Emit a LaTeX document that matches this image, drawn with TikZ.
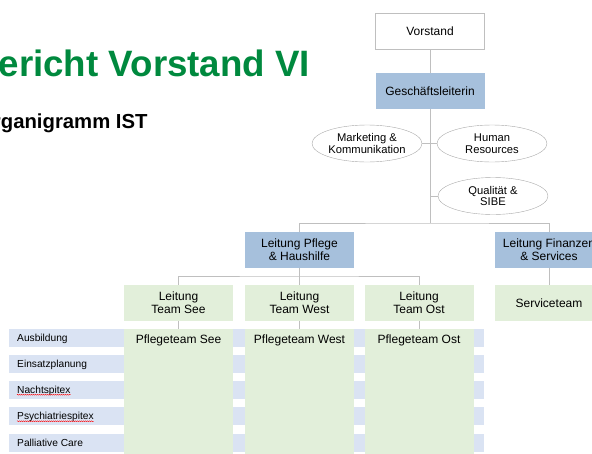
\documentclass[tikz,border=0pt]{standalone}
\usepackage{fontspec}
\setmainfont{Liberation Sans}
\usepackage{tikz}
\usetikzlibrary{shapes.geometric,decorations.pathmorphing}

\definecolor{titlegreen}{RGB}{0,137,62}
\definecolor{linegray}{RGB}{191,191,191}
\definecolor{ovalgray}{RGB}{170,170,170}
\definecolor{leadblue}{RGB}{166,192,220}
\definecolor{teamgreen}{RGB}{226,239,218}
\definecolor{barblue}{RGB}{218,227,243}

\begin{document}
\begin{tikzpicture}[x=1pt,y=-1pt,font=\fontsize{12}{12.8}\selectfont]
    \tikzstyle{link}=[draw=linegray, line width=1pt]
    \tikzstyle{org box}=[rectangle,minimum width=109pt,minimum height=36pt,inner sep=0pt,align=center]
    \tikzstyle{board box}=[org box, draw=linegray, fill=white];
    \tikzstyle{lead box}=[org box, fill=leadblue];
    \tikzstyle{team box}=[org box, fill=teamgreen];
    \tikzstyle{staff oval}=[ellipse, draw=ovalgray, fill=white, minimum width=110pt, minimum height=37pt, inner sep=0pt, align=center, font=\fontsize{11.2}{11.8}\selectfont];
    \tikzstyle{task bar}=[fill=barblue, minimum width=475pt, minimum height=18pt, inner sep=0pt, anchor=west];
    \tikzstyle{task}=[anchor=base west, inner sep=0pt, font=\fontsize{10.2}{12}\selectfont];
    \tikzstyle{typo}=[draw=red, line width=0.4pt, decorate, decoration={snake, amplitude=0.5pt, segment length=2pt}];

    \useasboundingbox (0,0) rectangle (592,453);
    \clip (0,0) rectangle (592,453);

    % Title
    \node[anchor=base west, inner sep=0pt, text=titlegreen, font=\fontsize{36.7}{40}\selectfont\bfseries] (title) at (-28,76) {Bericht Vorstand VI};
    \node[anchor=base west, inner sep=0pt, font=\fontsize{20.3}{24}\selectfont\bfseries] (subtitle) at (-23,128.5) {Organigramm IST};

    % Tasks across the teams
    \node[task bar] (B-1) at (9,338) {};
    \node[task bar] (B-2) at (9,363.5) {};
    \node[task bar] (B-3) at (9,389.5) {};
    \node[task bar] (B-4) at (9,416) {};
    \node[task bar] (B-5) at (9,443) {};
    \node[task] (T-1) at (17,341.7) {Ausbildung};
    \node[task] (T-2) at (17,367.2) {Einsatzplanung};
    \node[task] (T-3) at (17,393.2) {Nachtspitex};
    \node[task] (T-4) at (17,419.7) {Psychiatriespitex};
    \node[task] (T-5) at (17,446.7) {Palliative Care};
    \draw[typo] ([yshift=-1.5pt]T-3.base west) -- ([yshift=-1.5pt]T-3.base east);
    \draw[typo] ([yshift=-1.5pt]T-4.base west) -- ([yshift=-1.5pt]T-4.base east);

    % Board and management
    \node[board box] (V) at (430,31) {Vorstand};
    \node[lead box] (G) at (430,91) {Geschäftsleiterin};
    \node[staff oval] (M) at (367,143.5) {Marketing \&\\Kommunikation};
    \node[staff oval] (HR) at (492,143.5) {Human\\Resources};
    \node[staff oval] (Q) at (493,196) {Qualität \&\\SIBE};
    \coordinate (qj) at (430,196);
    \coordinate (split) at (430,223);

    % Departments
    \node[lead box] (P) at (299.5,250) {Leitung Pflege\\\& Haushilfe};
    \node[lead box] (F) at (549,250) {Leitung Finanzen\\\& Services};
    \coordinate (pj) at (299.5,276);

    % Teams
    \node[team box] (LS) at (178.5,303) {Leitung\\Team See};
    \node[team box] (LW) at (299.5,303) {Leitung\\Team West};
    \node[team box] (LO) at (419,303) {Leitung\\Team Ost};
    \node[team box] (S) at (549,303) {Serviceteam};
    \node[team box, minimum height=125pt, anchor=north, label={[anchor=north, inner sep=0pt, yshift=-6pt]north:Pflegeteam See}] (PS) at (178.5,329) {};
    \node[team box, minimum height=125pt, anchor=north, label={[anchor=north, inner sep=0pt, yshift=-6pt]north:Pflegeteam West}] (PW) at (299.5,329) {};
    \node[team box, minimum height=125pt, anchor=north, label={[anchor=north, inner sep=0pt, yshift=-6pt]north:Pflegeteam Ost}] (PO) at (419,329) {};

    % Connectors
    \path[link] (V) -- (G);
    \path[link] (G) -- (split);
    \path[link] (M) -- (HR);
    \path[link] (qj) -- (Q);
    \path[link] (P) |- (split) -| (F);
    \path[link] (P) -- (pj);
    \path[link] (LS) |- (pj) -| (LO);
    \path[link] (pj) -- (LW);
    \path[link] (F) -- (S);
    \path[link] (LS) -- (PS);
    \path[link] (LW) -- (PW);
    \path[link] (LO) -- (PO);
\end{tikzpicture}
\end{document}
